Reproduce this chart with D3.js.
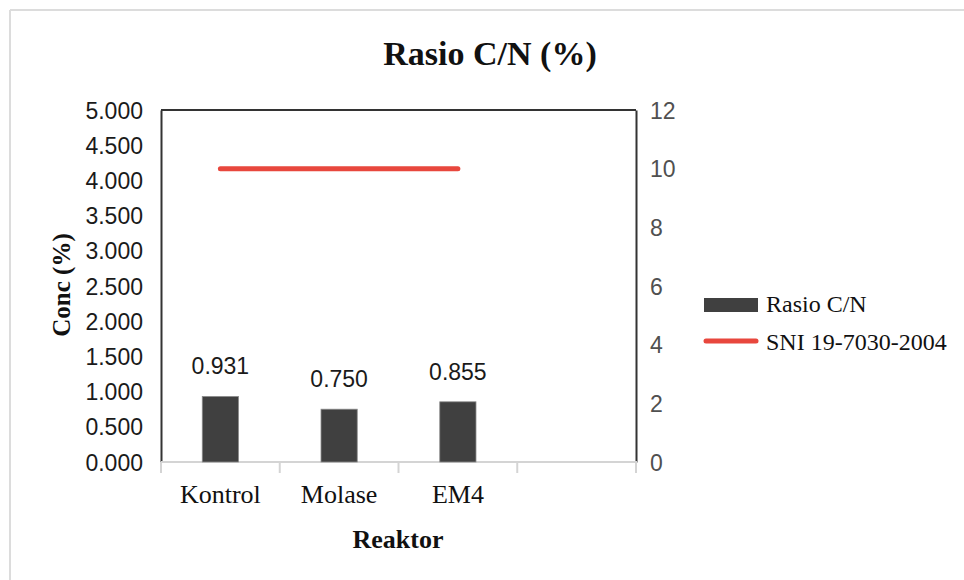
<!DOCTYPE html>
<html>
<head>
<meta charset="utf-8">
<script src="https://cdn.jsdelivr.net/npm/d3@7"></script>
<style>
  html, body { margin: 0; padding: 0; background: #fff; }
  svg { display: block; }
</style>
</head>
<body>
<svg id="chart" width="964" height="580"></svg>
<script>
// Reactor groups (the fourth slot is an empty category)
const categories = ["Kontrol", "Molase", "EM4", ""];
// C/N ratio per reactor (left axis)
const rasioCN = [0.931, 0.750, 0.855];
// SNI 19-7030-2004 standard (right axis)
const sniValues = [10, 10, 10];
// Tick labels
const leftTicks = [0, 0.5, 1, 1.5, 2, 2.5, 3, 3.5, 4, 4.5, 5];
const rightTicks = [0, 2, 4, 6, 8, 10, 12];

const svg = d3.select("#chart");
const serif = "'Liberation Serif', 'Times New Roman', serif";
const sans = "'Liberation Sans', Arial, sans-serif";

const plot = { left: 161, right: 636, top: 110, bottom: 462 };

// outer frame (top and left edges)
svg.append("line").attr("x1", 10).attr("y1", 10).attr("x2", 964).attr("y2", 10)
  .attr("stroke", "#dcdcdc").attr("stroke-width", 2);
svg.append("line").attr("x1", 10).attr("y1", 10).attr("x2", 10).attr("y2", 580)
  .attr("stroke", "#dcdcdc").attr("stroke-width", 2);

const x = d3.scaleBand().domain(categories).range([plot.left, plot.right]).padding(0);
const y = d3.scaleLinear().domain([0, 5]).range([plot.bottom, plot.top]);
const y2 = d3.scaleLinear().domain([0, 12]).range([plot.bottom, plot.top]);

// title
svg.append("text").attr("x", 490).attr("y", 65).attr("text-anchor", "middle")
  .attr("font-family", serif).attr("font-weight", "bold").attr("font-size", 34)
  .attr("fill", "#111").text("Rasio C/N (%)");

// left axis
const gl = svg.append("g").attr("transform", `translate(${plot.left},0)`)
  .call(d3.axisLeft(y).tickValues(leftTicks).tickFormat(d3.format(".3f")).tickSize(0).tickPadding(18));
gl.select(".domain").attr("stroke", "#333").attr("stroke-width", 2);
gl.selectAll("text").attr("font-family", sans).attr("font-size", 23).attr("fill", "#1a1a1a").attr("dy", "0.35em");

// right axis
const gr = svg.append("g").attr("transform", `translate(${plot.right},0)`)
  .call(d3.axisRight(y2).tickValues(rightTicks).tickSize(0).tickPadding(14));
gr.select(".domain").attr("stroke", "#333").attr("stroke-width", 2);
gr.selectAll("text").attr("font-family", sans).attr("font-size", 23).attr("fill", "#505050").attr("dy", "0.35em");

// top edge of the plot box
svg.append("line").attr("x1", plot.left).attr("x2", plot.right)
  .attr("y1", plot.top).attr("y2", plot.top).attr("stroke", "#333").attr("stroke-width", 2);

// bottom category axis with boundary ticks
const gb = svg.append("g").attr("transform", `translate(0,${plot.bottom})`);
gb.append("line").attr("x1", plot.left).attr("x2", plot.right + 1)
  .attr("stroke", "#d4d4d4").attr("stroke-width", 2);
const bounds = categories.map(c => x(c)).concat([plot.right]);
gb.selectAll("line.tick").data(bounds).join("line").attr("class", "tick")
  .attr("x1", d => d).attr("x2", d => d).attr("y1", 0).attr("y2", 11)
  .attr("stroke", "#d4d4d4").attr("stroke-width", 2);
gb.selectAll("text.cat").data(categories).join("text").attr("class", "cat")
  .attr("x", d => x(d) + x.bandwidth() / 2).attr("y", 41)
  .attr("text-anchor", "middle").attr("font-family", serif).attr("font-size", 26)
  .attr("fill", "#111").text(d => d);

// bars
const barW = x.bandwidth() * 0.305;
const barData = rasioCN.map((v, i) => ({ cat: categories[i], v }));
svg.selectAll("rect.bar").data(barData).join("rect").attr("class", "bar")
  .attr("x", d => x(d.cat) + x.bandwidth() / 2 - barW / 2)
  .attr("y", d => y(d.v)).attr("width", barW).attr("height", d => y(0) - y(d.v))
  .attr("fill", "#404040").attr("stroke", "#8a8a8a").attr("stroke-width", 0.8);

// value labels
svg.selectAll("text.val").data(barData).join("text").attr("class", "val")
  .attr("x", d => x(d.cat) + x.bandwidth() / 2).attr("y", d => y(d.v) - 22)
  .attr("text-anchor", "middle").attr("font-family", sans).attr("font-size", 23)
  .attr("fill", "#1a1a1a").text(d => d3.format(".3f")(d.v));

// SNI standard line
const line = d3.line()
  .x((d, i) => x(categories[i]) + x.bandwidth() / 2)
  .y(d => y2(d));
svg.append("path").datum(sniValues).attr("d", line).attr("fill", "none")
  .attr("stroke", "#e8473d").attr("stroke-width", 5).attr("stroke-linecap", "round");

// axis titles
svg.append("text").attr("transform", "translate(70,285) rotate(-90)")
  .attr("text-anchor", "middle").attr("font-family", serif).attr("font-weight", "bold")
  .attr("font-size", 25).attr("fill", "#111").text("Conc (%)");
svg.append("text").attr("x", 398).attr("y", 548).attr("text-anchor", "middle")
  .attr("font-family", serif).attr("font-weight", "bold").attr("font-size", 26)
  .attr("fill", "#111").text("Reaktor");

// legend
const lg = svg.append("g");
lg.append("rect").attr("x", 704).attr("y", 298).attr("width", 54).attr("height", 14)
  .attr("fill", "#404040");
lg.append("text").attr("x", 766).attr("y", 312).attr("font-family", serif)
  .attr("font-size", 24).attr("fill", "#111").text("Rasio C/N");
lg.append("line").attr("x1", 706).attr("x2", 756).attr("y1", 341).attr("y2", 341)
  .attr("stroke", "#e8473d").attr("stroke-width", 5).attr("stroke-linecap", "round");
lg.append("text").attr("x", 766).attr("y", 350).attr("font-family", serif)
  .attr("font-size", 24).attr("fill", "#111").text("SNI 19-7030-2004");
</script>
</body>
</html>
